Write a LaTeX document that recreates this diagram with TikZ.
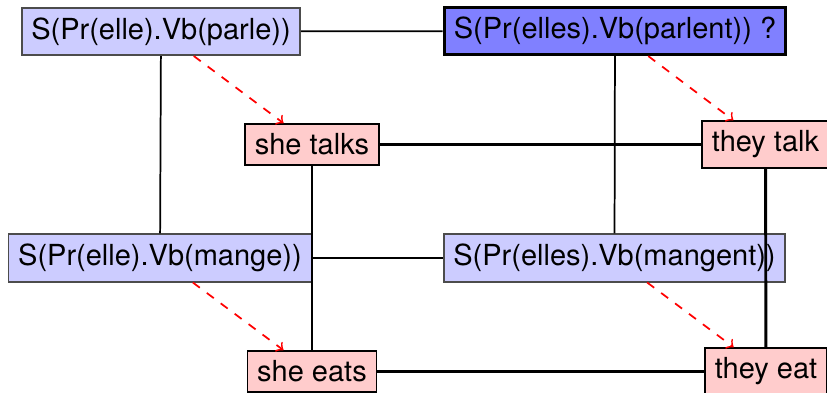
\documentclass[tikz,border=0pt]{standalone}
\usepackage{fontspec}
\setmainfont{TeX Gyre Heros}
\begin{document}
\begin{tikzpicture}[x=0.3448pt,y=-0.3448pt,
  fr/.style={draw=black!70,semithick,fill=blue!20,inner sep=3.33pt},
  frq/.style={draw=black,line width=1pt,fill=blue!50,inner sep=3.33pt},
  en/.style={draw=black,semithick,fill=red!20,inner sep=3.33pt},
  back/.style={draw=black,semithick},
  front/.style={draw=black,line width=1pt},
  tr/.style={draw=red,semithick,dashed,->}]
\useasboundingbox (0,0) rectangle (827,393);
\node[fr]  (A) at (161,31.5) {S(Pr(elle).Vb(parle))};
\node[frq] (B) at (615,31) {S(Pr(elles).Vb(parlent)) ?};
\node[fr]  (E) at (160,258) {S(Pr(elle).Vb(mange))};
\node[fr]  (F) at (614.5,258) {S(Pr(elles).Vb(mangent))};
\node[en]  (C) at (312,144.5) {she talks};
\node[en]  (D) at (765.5,144.5) {they talk};
\node[en]  (G) at (312,371.5) {she eats};
\node[en]  (H) at (766,371.5) {they eat};
\draw[back] (A) -- (B);
\draw[back] (A) -- (E);
\draw[back] (B) -- (F);
\draw[back] (E) -- (F);
\draw[front] (C) -- (D);
\draw[front] (C) -- (G);
\draw[front] (D) -- (H);
\draw[front] (G) -- (H);
\draw[tr] (A) -- (C);
\draw[tr] (B) -- (D);
\draw[tr] (E) -- (G);
\draw[tr] (F) -- (H);
\end{tikzpicture}
\end{document}
